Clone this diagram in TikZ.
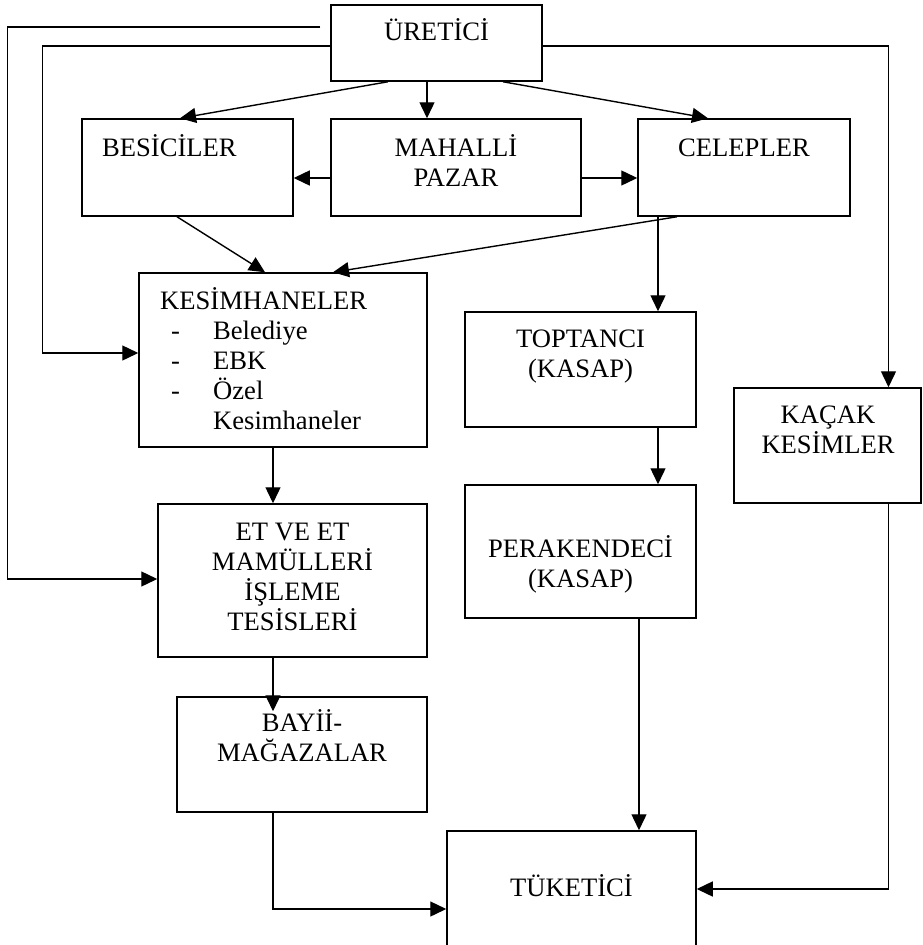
\documentclass[tikz,border=0pt]{standalone}
\usepackage{fontspec}
\setmainfont{Liberation Serif}
\usetikzlibrary{arrows.meta}

\tikzset{
  kutu/.style={draw, line width=1.5pt, inner sep=0pt},
  yazi/.style={font=\fontsize{26.6}{30}\selectfont, inner sep=0pt, align=center, anchor=base},
  ok/.style={line width=1.4pt, -{Triangle[length=16pt,width=15pt]}}
}

\begin{document}
\begin{tikzpicture}[x=1pt, y=-1pt]
	\useasboundingbox (0,0) rectangle (923,945);
	
	%%%%% KUTULAR %%%%%
	\node[kutu, minimum width=211pt, minimum height=76pt] (uretici) at (436.5, 43) {};
	\node[kutu, minimum width=211pt, minimum height=97pt] (besici) at (187.5, 167.5) {};
	\node[kutu, minimum width=250pt, minimum height=97pt] (mahalli) at (456, 167.5) {};
	\node[kutu, minimum width=212pt, minimum height=97pt] (celep) at (744, 167.5) {};
	\node[kutu, minimum width=288pt, minimum height=174pt] (kesim) at (283, 360) {};
	\node[kutu, minimum width=231pt, minimum height=115pt] (toptanci) at (580.5, 369.5) {};
	\node[kutu, minimum width=187pt, minimum height=115pt] (kacak) at (827.5, 445.5) {};
	\node[kutu, minimum width=231pt, minimum height=133pt] (perakende) at (580.5, 551.5) {};
	\node[kutu, minimum width=269pt, minimum height=153pt] (et) at (292.5, 580.5) {};
	\node[kutu, minimum width=250pt, minimum height=115pt] (bayi) at (302, 754.5) {};
	\node[kutu, minimum width=249pt, minimum height=116pt] (tuketici) at (571.5, 889) {};
	
	%%%%% YAZILAR %%%%%
	% cok satirli yazilarda base = son satir
	\node[yazi] (tUretici) at (436.5, 40) {ÜRETİCİ};
	\node[yazi, anchor=base west] (tBesici) at (102, 156) {BESİCİLER};
	\node[yazi] (tMahalli) at (456, 186) {MAHALLİ\\PAZAR};
	\node[yazi] (tCelep) at (744, 156) {CELEPLER};
	\node[yazi, align=left, anchor=base west] (tKesim) at (160, 429) {KESİMHANELER\\
		\hspace*{11pt}\makebox[42pt][l]{-}Belediye\\
		\hspace*{11pt}\makebox[42pt][l]{-}EBK\\
		\hspace*{11pt}\makebox[42pt][l]{-}Özel\\
		\hspace*{53pt}Kesimhaneler};
	\node[yazi] (tToptanci) at (580.5, 377) {TOPTANCI\\(KASAP)};
	\node[yazi] (tKacak) at (828, 453) {KAÇAK\\KESİMLER};
	\node[yazi] (tPerakende) at (580.5, 587) {PERAKENDECİ\\(KASAP)};
	\node[yazi] (tEt) at (292.5, 630) {ET VE ET\\MAMÜLLERİ\\İŞLEME\\TESİSLERİ};
	\node[yazi] (tBayi) at (302, 761) {BAYİİ-\\MAĞAZALAR};
	\node[yazi] (tTuketici) at (571.5, 896) {TÜKETİCİ};
	
	%%%%% OKLAR %%%%%
	\draw[ok] ([xshift=-48.5pt]uretici.south) -- ([xshift=-7.5pt]besici.north);
	\draw[ok] ([xshift=-9.5pt]uretici.south) -- ([xshift=-29pt]mahalli.north);
	\draw[ok] ([xshift=66.5pt]uretici.south) -- ([xshift=-36pt]celep.north);
	
	\draw[ok] ([yshift=-10.5pt]mahalli.west) -- ([yshift=-10.5pt]besici.east);
	\draw[ok] ([yshift=-10.5pt]mahalli.east) -- ([yshift=-10.5pt]celep.west);
	
	\draw[ok] ([xshift=-10.5pt]besici.south) -- ([xshift=-18pt]kesim.north);
	\draw[ok] ([xshift=-67pt]celep.south) -- ([xshift=50pt]kesim.north);
	\draw[ok] ([xshift=-86pt]celep.south) -- ([xshift=77.5pt]toptanci.north);
	
	\draw[ok] ([yshift=-3pt]uretici.east) -| ([xshift=61pt]kacak.north);
	\draw[ok] ([yshift=-3pt]uretici.west) -- ++(-288, 0) |- ([yshift=7pt]kesim.west);
	\coordinate (dis) at ([xshift=-10pt, yshift=16pt]uretici.west);
	\draw[ok] (dis) -- ++(-313, 0) |- ([yshift=1.5pt]et.west);
	
	\draw[ok] ([xshift=-10pt]kesim.south) -- ([xshift=-19.5pt]et.north);
	\draw[ok] ([xshift=-19.5pt]et.south) -- ([xshift=-29pt, yshift=-15pt]bayi.north);
	\draw[ok] ([xshift=-29pt]bayi.south) |- ([yshift=-20pt]tuketici.west);
	
	\draw[ok] ([xshift=77.5pt]toptanci.south) -- ([xshift=77.5pt]perakende.north);
	\draw[ok] ([xshift=58.5pt]perakende.south) -- ([xshift=67.5pt]tuketici.north);
	\draw[ok] ([xshift=61pt]kacak.south) |- (tuketici.east);
	
\end{tikzpicture}
\end{document}
